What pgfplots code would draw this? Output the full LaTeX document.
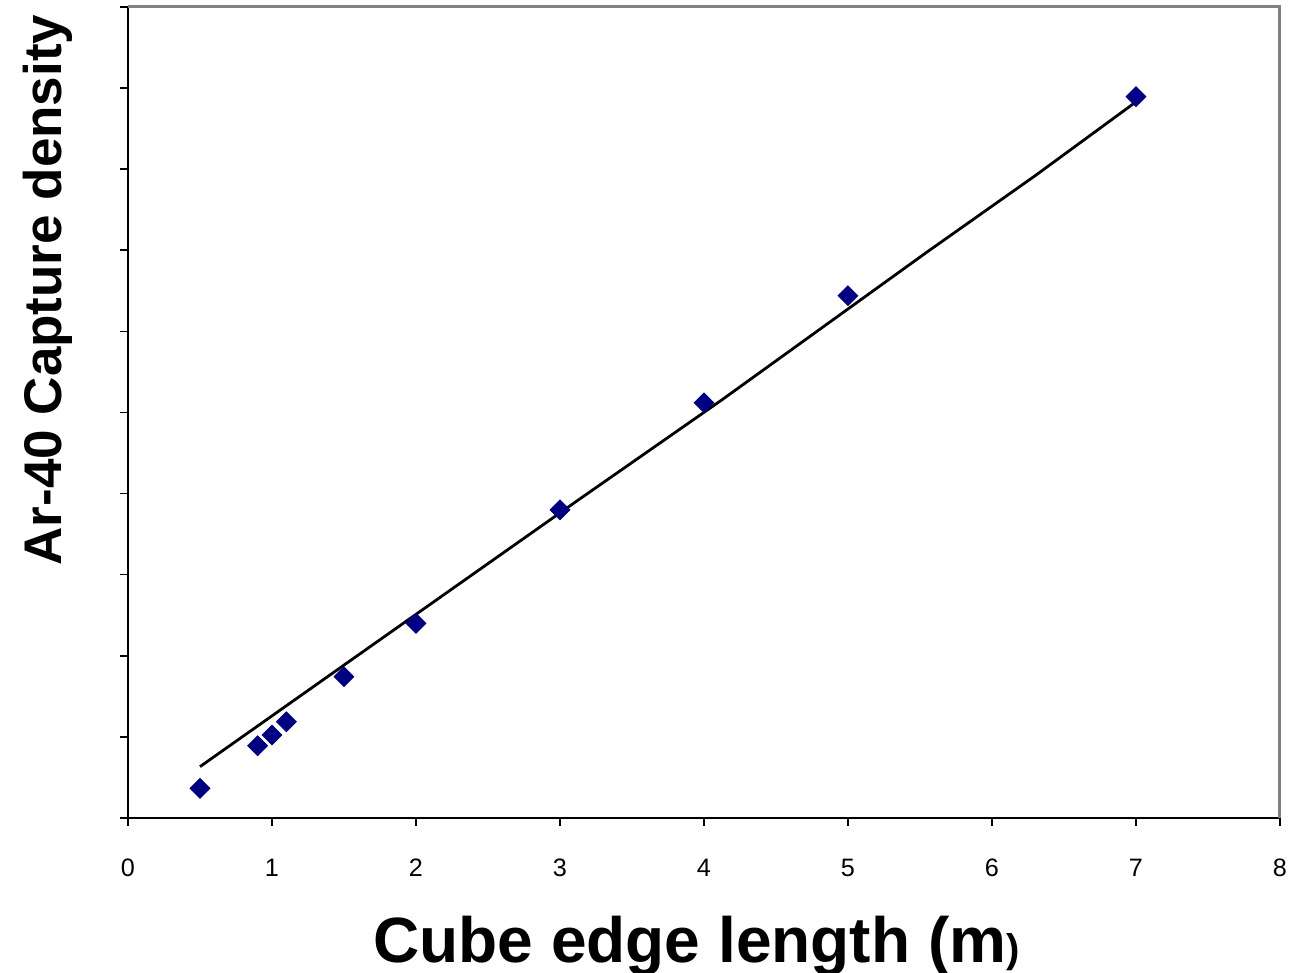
\documentclass[border=0pt]{standalone}
\usepackage{pgfplots}
\pgfplotsset{compat=1.18}
\usepackage{fontspec}
\setmainfont{Liberation Sans}
\definecolor{navy}{HTML}{000080}
\definecolor{frame}{HTML}{808080}
\begin{document}
\begin{tikzpicture}
\begin{axis}[
  scale only axis,
  width=576pt, height=405.5pt,
  xmin=0, xmax=8, ymin=0, ymax=10,
  xtick={0,1,...,8},
  ytick={0,1,...,10},
  yticklabels={},
  axis x line*=bottom,
  axis y line*=left,
  axis line style={black, line width=1pt, -},
  tick align=outside,
  major tick length=4pt,
  tick style={black, line width=0.8pt},
  /pgf/number format/assume math mode=true,
  xticklabel style={font=\fontsize{12.6}{14}\selectfont, yshift=-13pt},
  xlabel={\fontsize{32}{36}\selectfont\bfseries Cube edge length (m{\fontsize{20}{22}\selectfont )}},
  xlabel style={at={(axis description cs:0.4935,-0.1776)}, anchor=base},
  ylabel={\fontsize{26.5}{30}\selectfont\bfseries Ar-40 Capture density},
  ylabel style={at={(axis description cs:-0.0573,0.651)}, anchor=base, rotate=0},
  clip=false,
]
\addplot[black, line width=1.4pt, line join=round] coordinates {
  (0.5,0.633) (1.681,2.112) (3.127,3.921) (4.123,5.154) (5.55,6.98) (6.3,7.92) (7.0,8.83)
};
\addplot[only marks, mark=square*, mark size=3.5pt, mark options={rotate=45, fill=navy, draw=navy}] coordinates {
  (0.5,0.366) (0.9,0.891) (1.0,1.023) (1.1,1.187) (1.5,1.742)
  (2.0,2.40) (3.0,3.80) (4.0,5.12) (5.0,6.44) (7.0,8.894)
};
\draw[frame, line width=1.5pt] (rel axis cs:0,1) -- (rel axis cs:1,1) -- (rel axis cs:1,0);
\coordinate (BL) at (rel axis cs:0,0);
\end{axis}
\pgfresetboundingbox
\path ([shift={(-64pt,-77.5pt)}]BL) rectangle ([shift={(587.5pt,409pt)}]BL);
\end{tikzpicture}
\end{document}
